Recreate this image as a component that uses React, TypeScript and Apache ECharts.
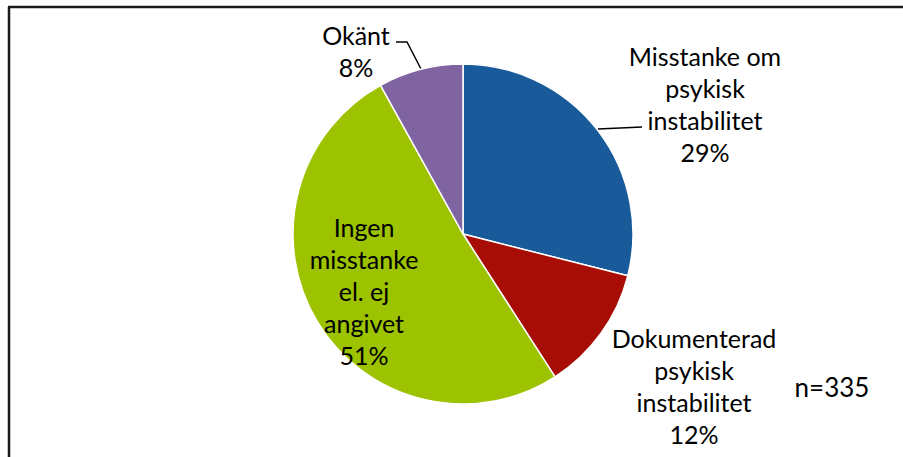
import React, { useEffect, useRef } from "react";
import * as echarts from "echarts";

const categories = [
  "Misstanke om\npsykisk\ninstabilitet",
  "Dokumenterad\npsykisk\ninstabilitet",
  "Ingen\nmisstanke\nel. ej\nangivet",
  "Okänt",
];
const counts = [97, 40, 171, 27];
const colors = ["#195A9B", "#A80D05", "#9CC200", "#8064A2"];
const totalLabel = "n=335";

// label anchor positions (block centers) per slice
const labelPos = [
  { x: 705, y: 104 },
  { x: 694, y: 386 },
  { x: 364, y: 291 },
  { x: 356, y: 51 },
];

export default function App() {
  const ref = useRef<HTMLDivElement>(null);
  useEffect(() => {
    if (!ref.current) return;
    const chart = echarts.init(ref.current, null, { renderer: "svg" });
    const font = "Lato, 'Open Sans', sans-serif";
    chart.setOption({
      animation: false,
      backgroundColor: "#ffffff",
      graphic: [
        { type: "line", shape: { x1: 9, y1: 7, x2: 9, y2: 470 }, style: { stroke: "#1a1a1a", lineWidth: 2.5 } },
        { type: "line", shape: { x1: 8, y1: 7, x2: 910, y2: 7 }, style: { stroke: "#1a1a1a", lineWidth: 2.5 } },
        { type: "polyline", shape: { points: [[396, 42], [407, 42], [421, 69]] }, style: { stroke: "#000", lineWidth: 1.5, fill: null } },
        { type: "line", shape: { x1: 598, y1: 129, x2: 642, y2: 127 }, style: { stroke: "#000", lineWidth: 1.5 } },
        {
          type: "text",
          x: 832,
          y: 387,
          style: { text: totalLabel, font: `26px ${font}`, fill: "#000", align: "center", verticalAlign: "middle" },
        },
      ],
      series: [
        {
          type: "pie",
          center: [463, 234],
          radius: 170,
          startAngle: 90,
          clockwise: true,
          itemStyle: { borderColor: "#ffffff", borderWidth: 1.5 },
          label: {
            show: true,
            position: "outside",
            color: "#000",
            fontFamily: font,
            fontSize: 25,
            lineHeight: 32,
            align: "center",
            formatter: (p: any) => `${p.name}\n${Math.round(p.percent)}%`,
          },
          labelLine: { show: false },
          labelLayout: (p: any) => ({
            x: labelPos[p.dataIndex].x,
            y: labelPos[p.dataIndex].y,
            align: "center",
            verticalAlign: "middle",
          }),
          data: categories.map((c, i) => ({ name: c, value: counts[i], itemStyle: { color: colors[i] } })),
        },
      ],
    });
    return () => chart.dispose();
  }, []);
  return <div ref={ref} style={{ position: "fixed", left: 0, top: 0, width: 903, height: 457 }} />;
}
